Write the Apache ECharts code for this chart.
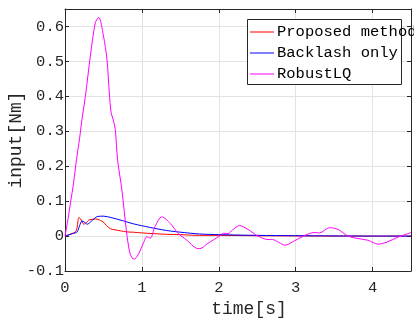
<!DOCTYPE html>
<html>
<head>
<meta charset="utf-8">
<script src="https://cdn.jsdelivr.net/npm/echarts@6/dist/echarts.min.js"></script>
<style>
  html, body { margin: 0; padding: 0; background: #fff; }
  #chart { width: 414px; height: 323px; }
</style>
</head>
<body>
<div id="chart"></div>
<script>
// Proposed method (red)
const proposedT = [0, 0.05, 0.1, 0.136, 0.155, 0.17, 0.18, 0.2, 0.245, 0.28, 0.31, 0.36, 0.4, 0.46, 0.5, 0.54, 0.59, 0.65, 0.72, 0.8, 0.89, 1.0, 1.15, 1.32, 1.5, 1.75, 2.0, 2.5, 3.0, 3.5, 4.0, 4.5];
const proposedV = [0, 0.004, 0.008, 0.012, 0.022, 0.045, 0.053, 0.05, 0.034, 0.039, 0.046, 0.048, 0.049, 0.045, 0.04, 0.03, 0.021, 0.018, 0.015, 0.012, 0.011, 0.009, 0.007, 0.005, 0.004, 0.002, 0.002, 0.001, 0.0005, 0, 0, 0];

// Backlash only (blue)
const backlashT = [0, 0.1, 0.158, 0.19, 0.22, 0.25, 0.29, 0.33, 0.38, 0.42, 0.5, 0.6, 0.75, 0.89, 1.1, 1.32, 1.55, 1.75, 2.0, 2.5, 3.0, 3.5, 4.0, 4.5];
const backlashV = [0, 0.007, 0.012, 0.03, 0.043, 0.04, 0.034, 0.04, 0.05, 0.056, 0.057, 0.053, 0.044, 0.035, 0.025, 0.016, 0.01, 0.006, 0.004, 0.002, 0.001, 0.0005, 0, 0];

// RobustLQ (magenta)
const robustT = [0, 0.04, 0.075, 0.11, 0.15, 0.19, 0.22, 0.265, 0.33, 0.395, 0.44, 0.5, 0.546, 0.576, 0.6, 0.625, 0.654, 0.684, 0.74, 0.8, 0.84, 0.87, 0.9, 0.94, 0.98, 1.02, 1.065, 1.11, 1.17, 1.26, 1.37, 1.47, 1.58, 1.71, 1.755, 1.85, 1.93, 2.01, 2.06, 2.12, 2.18, 2.27, 2.38, 2.51, 2.64, 2.7, 2.78, 2.86, 2.99, 3.12, 3.24, 3.31, 3.44, 3.55, 3.68, 3.81, 3.94, 4.07, 4.19, 4.32, 4.5];
const robustV = [0, 0.05, 0.1, 0.15, 0.22, 0.28, 0.333, 0.4, 0.516, 0.611, 0.626, 0.573, 0.506, 0.41, 0.353, 0.335, 0.305, 0.218, 0.132, 0.012, -0.045, -0.062, -0.066, -0.058, -0.04, -0.02, -0.002, -0.006, 0.027, 0.055, 0.036, 0.008, -0.011, -0.035, -0.036, -0.022, -0.011, 0, 0.008, 0.007, 0.018, 0.03, 0.019, 0, -0.01, -0.01, -0.018, -0.026, -0.013, 0.002, 0.01, 0.009, 0.024, 0.019, 0, -0.007, -0.012, -0.023, -0.017, -0.004, 0.01];

const seriesNames = ['Proposed method', 'Backlash only', 'RobustLQ'];
const seriesColors = ['#ff0000', '#0000ff', '#ff00ff'];

const pairs = (t, v) => t.map((x, i) => [x, v[i]]);
const seriesData = [pairs(proposedT, proposedV), pairs(backlashT, backlashV), pairs(robustT, robustV)];

const font = "'Courier New', 'Liberation Mono', monospace";
const axisColor = '#262626';
const gridColor = '#e3e3e3';

const chart = echarts.init(document.getElementById('chart'), null, { renderer: 'canvas' });

const frameAxis = {
  axisLine: { show: true, onZero: false, lineStyle: { color: axisColor, width: 1 } },
  axisTick: { show: true, inside: true, length: 4, lineStyle: { color: axisColor } },
  axisLabel: { show: false },
  splitLine: { show: false },
};

chart.setOption({
  animation: false,
  backgroundColor: '#ffffff',
  grid: { left: 65, right: 3, top: 9, bottom: 52, containLabel: false, outerBoundsMode: 'none' },
  xAxis: [
    {
      type: 'value', min: 0, max: 4.5, interval: 1, position: 'bottom',
      name: 'time[s]', nameLocation: 'middle', nameGap: 29, nameMoveOverlap: false,
      nameTextStyle: { fontFamily: font, fontSize: 18, color: axisColor, padding: [0, 0, 0, 22] },
      axisLine: { show: true, onZero: false, lineStyle: { color: axisColor, width: 1 } },
      axisTick: { show: true, inside: true, length: 4, lineStyle: { color: axisColor } },
      axisLabel: { fontFamily: font, fontSize: 15.5, color: axisColor, margin: 9, showMaxLabel: false },
      splitLine: { show: true, lineStyle: { color: gridColor, width: 1 } },
    },
    { type: 'value', min: 0, max: 4.5, interval: 1, position: 'top', ...frameAxis },
  ],
  yAxis: [
    {
      type: 'value', min: -0.1, max: 0.65, interval: 0.1, position: 'left',
      name: 'input[Nm]', nameLocation: 'middle', nameGap: 40, nameRotate: 90, nameMoveOverlap: false,
      nameTextStyle: { fontFamily: font, fontSize: 18, color: axisColor },
      axisLine: { show: true, onZero: false, lineStyle: { color: axisColor, width: 1 } },
      axisTick: { show: true, inside: true, length: 4, lineStyle: { color: axisColor } },
      axisLabel: {
        fontFamily: font, fontSize: 15.5, color: axisColor, margin: 1, showMaxLabel: false,
        formatter: (v) => String(+v.toFixed(1)),
      },
      splitLine: { show: true, lineStyle: { color: gridColor, width: 1 } },
    },
    { type: 'value', min: -0.1, max: 0.65, interval: 0.1, position: 'right', ...frameAxis },
  ],
  legend: {
    data: seriesNames,
    orient: 'vertical',
    left: 250, top: 23,
    padding: 0,
    itemGap: 3,
    itemWidth: 24, itemHeight: 1,
    icon: 'rect',
    z: 6,
    textStyle: { fontFamily: font, fontSize: 15.5, color: '#000', lineHeight: 18, padding: [0, 0, 0, -2] },
  },
  graphic: [
    {
      type: 'rect', z: 5,
      shape: { x: 247.5, y: 19.5, width: 154, height: 65 },
      style: { fill: '#ffffff', stroke: axisColor, lineWidth: 1 },
    },
  ],
  series: seriesNames.map((name, i) => ({
    name,
    type: 'line',
    data: seriesData[i],
    symbol: 'none',
    smooth: 0.3,
    color: seriesColors[i],
    lineStyle: { color: seriesColors[i], width: 1 },
    z: 2,
  })),
});
</script>
</body>
</html>
